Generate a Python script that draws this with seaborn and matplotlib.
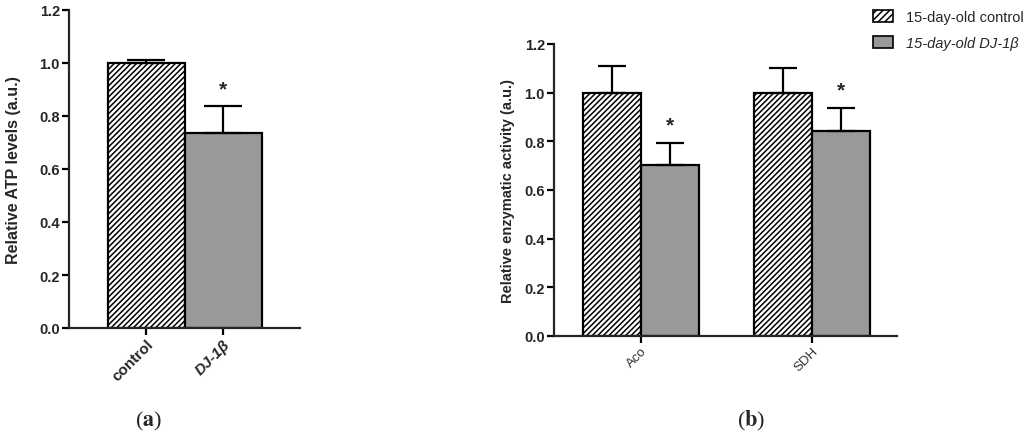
import numpy as np
import pandas as pd
import matplotlib
matplotlib.use("Agg")
import matplotlib.pyplot as plt
import seaborn as sns
from matplotlib.patches import Patch

sns.set_style("ticks")
plt.rcParams['font.family'] = ['Liberation Sans', 'DejaVu Sans']
plt.rcParams['mathtext.fontset'] = 'stix'
plt.rcParams['hatch.linewidth'] = 1.1

# ---- data ----
atp_groups = ["control", "DJ-1β"]
atp_values = [1.0, 0.737]
atp_errors = [0.012, 0.099]

enzymes = ["Aco", "SDH"]
enz_groups = ["15-day-old control", "15-day-old DJ-1β"]
enz_control = [1.0, 1.0]
enz_control_err = [0.110, 0.100]
enz_dj = [0.704, 0.843]
enz_dj_err = [0.089, 0.094]
significant_b = [True, True]

yticks = [0.0, 0.2, 0.4, 0.6, 0.8, 1.0, 1.2]

GRAY = "#999999"
LW = 1.6
HATCH = "//////"

fig = plt.figure(figsize=(10.29, 4.39), dpi=100)

W, H = 1029, 439
def axrect(l, r, t, b):
    return [l / W, 1 - b / H, (r - l) / W, (b - t) / H]

# ---------------- Panel a ----------------
axa = fig.add_axes(axrect(69, 300, 11, 329))
dfa = pd.DataFrame({"group": atp_groups, "value": atp_values})
sns.barplot(data=dfa, x="group", y="value", hue="group", palette=["white", GRAY],
            width=1.0, edgecolor="black", linewidth=LW, errorbar=None,
            legend=False, ax=axa)
bars_a = list(axa.patches)
bars_a[0].set_hatch(HATCH)
xa = [p.get_x() + p.get_width() / 2 for p in bars_a]
ha = [p.get_height() for p in bars_a]
axa.errorbar(xa, ha, yerr=[np.zeros(len(ha)), atp_errors], fmt="none",
             ecolor="black", elinewidth=LW, capsize=14, capthick=LW, zorder=1)
axa.text(xa[1], ha[1] + atp_errors[1] + 0.065, "*", ha="center", va="center",
         fontsize=15, fontweight="bold")
axa.set_xlim(-1.0, 2.0)
axa.set_ylim(0, 1.2)
axa.set_yticks(yticks)
axa.set_yticklabels([f"{t:.1f}" for t in yticks], fontweight="bold", fontsize=10.5)
axa.set_xticks([0, 1])
axa.set_xticklabels(atp_groups, rotation=45, ha="right", rotation_mode="anchor",
                    fontweight="bold", fontsize=11)
axa.get_xticklabels()[1].set_style("italic")
axa.set_xlabel("")
axa.set_ylabel("Relative ATP levels (a.u.)", fontweight="bold", fontsize=11.5, labelpad=13)
for s in ["top", "right"]:
    axa.spines[s].set_visible(False)
for s in ["left", "bottom"]:
    axa.spines[s].set_linewidth(LW)
axa.tick_params(axis="both", width=LW, length=5, color="black", pad=1.5)

# ---------------- Panel b ----------------
axb = fig.add_axes(axrect(554, 897, 45, 337))
dfb = pd.DataFrame({
    "enzyme": enzymes * 2,
    "group": [enz_groups[0]] * len(enzymes) + [enz_groups[1]] * len(enzymes),
    "value": enz_control + enz_dj,
})
sns.barplot(data=dfb, x="enzyme", y="value", hue="group", hue_order=enz_groups,
            palette=["white", GRAY], width=0.68, edgecolor="black", linewidth=LW,
            errorbar=None, legend=False, ax=axb)
cont = list(axb.containers)
for p in cont[0]:
    p.set_hatch(HATCH)
errs = [enz_control_err, enz_dj_err]
for ci, c in enumerate(cont):
    xs = [p.get_x() + p.get_width() / 2 for p in c]
    hs = [p.get_height() for p in c]
    axb.errorbar(xs, hs, yerr=[np.zeros(len(hs)), errs[ci]], fmt="none",
                 ecolor="black", elinewidth=LW, capsize=10, capthick=LW, zorder=1)
    if ci == 1:
        for x, h, e, sig in zip(xs, hs, errs[ci], significant_b):
            if sig:
                axb.text(x, h + e + 0.075, "*", ha="center", va="center",
                         fontsize=15, fontweight="bold")
axb.set_xlim(-0.509, 1.497)
axb.set_ylim(0, 1.2)
axb.set_yticks(yticks)
axb.set_yticklabels([f"{t:.1f}" for t in yticks], fontweight="bold", fontsize=10.5)
axb.set_xticks([0, 1])
axb.set_xticklabels(enzymes, rotation=45, ha="right", rotation_mode="anchor",
                    fontsize=9.5, color="#333333")
axb.set_xlabel("")
axb.set_ylabel("Relative enzymatic activity (a.u.)", fontweight="bold", fontsize=10.5, labelpad=7)
for s in ["top", "right"]:
    axb.spines[s].set_visible(False)
for s in ["left", "bottom"]:
    axb.spines[s].set_linewidth(LW)
axb.tick_params(axis="both", width=LW, length=5, color="black", pad=1.5)

handles = [Patch(facecolor="white", edgecolor="black", hatch="/////", linewidth=1.2),
           Patch(facecolor=GRAY, edgecolor="black", linewidth=1.2)]
leg = fig.legend(handles, enz_groups, loc="upper left",
                 bbox_to_anchor=(860 / W, 1 + 2 / H), frameon=False,
                 fontsize=10.5, handlelength=1.35, handleheight=0.85,
                 handletextpad=0.9, labelspacing=0.8)
leg.get_texts()[1].set_style("italic")

fig.text(149 / W, 1 - 421 / H, r"($\mathbf{a}$)", family="Liberation Serif",
         fontsize=16, ha="center", va="center")
fig.text(751 / W, 1 - 421 / H, r"($\mathbf{b}$)", family="Liberation Serif",
         fontsize=16, ha="center", va="center")

fig.savefig("out.png", dpi=100)
